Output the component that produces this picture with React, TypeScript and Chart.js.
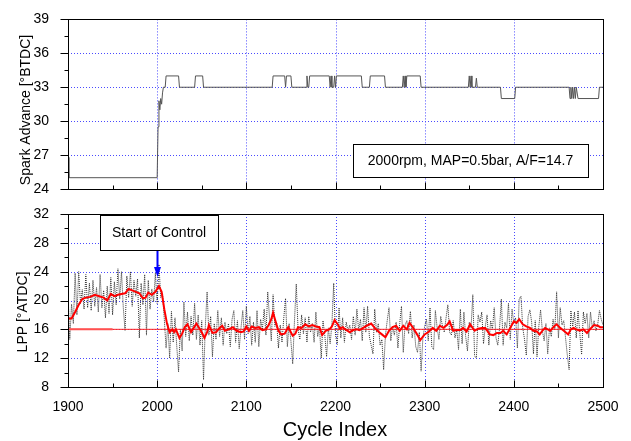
import React, { useEffect, useRef } from "react";
import { Chart, registerables } from "chart.js";

Chart.register(...registerables);

// ---------- data ----------
const xTickValues = [1900, 2000, 2100, 2200, 2300, 2400, 2500];

// Spark advance (top panel) – step trace vertices
const sparkCycles = [
  1900, 1901, 2000, 2001, 2002, 2003, 2004, 2005, 2006, 2007, 2009, 2010, 2024, 2025,
  2042, 2043, 2051, 2052, 2129, 2130, 2143, 2144, 2145, 2150, 2151, 2167, 2168, 2169,
  2170, 2171, 2193, 2194, 2195, 2196, 2198, 2199, 2200, 2201, 2229, 2230, 2238, 2239,
  2255, 2256, 2275, 2276, 2277, 2278, 2279, 2280, 2295, 2296, 2349, 2350, 2351, 2352,
  2353, 2357, 2358, 2359, 2385, 2386, 2401, 2402, 2462, 2463, 2464, 2465, 2466, 2467,
  2468, 2469, 2470, 2472, 2495, 2496, 2500,
];
const sparkValues = [
  26.8, 25, 25, 29.5, 31.8, 31, 32, 31.5, 32.5, 33, 33, 34, 34, 33,
  33, 34, 34, 33, 33, 34, 34, 33, 34, 34, 33, 33, 34, 33,
  33, 34, 34, 33, 34, 33, 33, 34, 33, 34, 34, 33, 33, 34,
  34, 33, 33, 34, 33, 34, 33, 34, 34, 33, 33, 34, 33, 34,
  33, 33, 33.8, 33, 33, 32, 32, 33, 33, 32, 33, 32, 33, 32,
  33, 32, 33, 32, 32, 33, 33,
];

// LPP raw measurements (bottom panel, dotted), every 2nd cycle from 1900
const lppRawStart = 1900;
const lppRawStep = 2;
const lppRaw = [
  21.0, 14.6, 19.5, 16.8, 23.8, 18.0, 24.0, 19.6, 21.5, 18.8, 23.6, 19.0, 22.4, 18.6, 22.8, 19.2, 21.8, 18.4, 23.6, 19.0, 21.4, 17.6, 22.0, 18.2, 23.2,
  18.0, 22.6, 19.4, 24.4, 20.2, 24.0, 19.0, 15.8, 23.4, 20.4, 24.0, 19.2, 22.8, 20.6, 23.0, 14.8, 22.4, 19.4, 23.6, 15.2, 22.8, 18.8, 21.6, 19.8, 23.8,
  19.6, 25.0, 20.4, 21.0, 17.4, 13.4, 16.8, 12.0, 18.5, 14.2, 17.6, 13.6, 10.1, 16.0, 13.0, 19.8, 15.0, 18.4, 14.4, 17.8, 15.2, 19.6, 14.6, 18.0, 13.8,
  17.2, 9.0, 16.4, 21.2, 15.2, 17.8, 12.2, 16.8, 14.6, 18.6, 15.0, 17.6, 13.8, 17.0, 15.4, 16.8, 13.6, 17.4, 18.6, 14.2, 17.2, 13.3, 16.2, 18.6, 14.6,
  19.2, 15.4, 17.8, 13.8, 17.0, 14.2, 18.6, 13.6, 17.4, 16.0, 18.8, 15.2, 21.2, 17.6, 14.4, 20.8, 16.4, 17.0, 13.4, 16.6, 14.2, 17.6, 20.3, 13.6, 16.8,
  14.4, 11.2, 17.2, 22.3, 16.0, 14.6, 18.0, 15.4, 17.6, 14.2, 17.8, 15.6, 16.8, 14.2, 18.4, 15.0, 16.4, 12.0, 17.2, 15.2, 12.2, 16.2, 14.0, 16.8, 22.4,
  15.2, 13.9, 19.0, 14.8, 17.6, 14.2, 17.0, 15.8, 16.6, 14.6, 17.8, 15.2, 18.8, 15.8, 17.4, 14.4, 19.0, 15.6, 19.2, 15.0, 13.8, 12.6, 18.8, 15.6, 16.8,
  13.8, 14.6, 10.4, 15.2, 17.2, 19.0, 14.4, 16.4, 15.2, 17.0, 13.4, 16.8, 19.2, 12.8, 16.6, 17.2, 15.4, 18.5, 14.8, 16.6, 13.6, 12.8, 15.6, 10.2, 14.8,
  16.4, 17.4, 14.4, 19.0, 13.6, 13.2, 18.6, 16.2, 14.6, 17.8, 16.4, 15.6, 17.6, 19.4, 15.6, 15.2, 17.2, 14.8, 16.0, 13.2, 18.8, 14.0, 18.4, 15.0, 13.0,
  17.0, 16.2, 20.8, 12.3, 12.0, 18.0, 17.0, 18.4, 14.0, 16.4, 18.0, 13.8, 17.2, 16.0, 19.0, 14.8, 13.8, 16.2, 20.2, 13.8, 17.0, 16.2, 19.6, 14.6, 18.8,
  16.8, 17.6, 13.4, 20.2, 20.6, 16.2, 14.6, 12.4, 17.8, 18.7, 17.0, 12.6, 17.2, 12.2, 16.4, 18.7, 15.8, 14.4, 16.8, 12.6, 16.2, 15.0, 17.4, 16.0, 21.2,
  14.8, 19.0, 16.6, 17.2, 14.8, 12.4, 10.4, 18.6, 16.4, 18.4, 14.8, 18.6, 15.4, 12.5, 18.4, 16.8, 18.2, 14.8, 18.4, 16.2, 17.2, 15.8, 16.6, 18.6, 17.4, 16.6,
];

// LPP moving average (red)
const lppAvgCycles = [
  1900, 1904, 1908, 1912, 1916, 1920, 1925, 1930, 1935, 1940, 1944, 1948, 1952, 1956, 1960, 1964, 1968, 1972, 1976, 1980,
  1984, 1987, 1990, 1994, 1998, 2002, 2005, 2008, 2011, 2014, 2017, 2019, 2021, 2025, 2028, 2031, 2034, 2038, 2041, 2044,
  2048, 2050, 2053, 2056, 2058, 2062, 2066, 2070, 2073, 2076, 2080, 2085, 2089, 2094, 2097, 2100, 2103, 2106, 2110, 2114,
  2118, 2122, 2125, 2128, 2130, 2133, 2136, 2139, 2143, 2147, 2152, 2155, 2158, 2162, 2166, 2170, 2174, 2178, 2182, 2185,
  2189, 2193, 2196, 2199, 2203, 2205, 2208, 2212, 2216, 2220, 2224, 2227, 2231, 2235, 2240, 2244, 2248, 2252, 2256, 2260,
  2264, 2268, 2272, 2276, 2280, 2283, 2286, 2289, 2292, 2295, 2300, 2305, 2309, 2313, 2317, 2321, 2325, 2328, 2332, 2336,
  2340, 2343, 2347, 2351, 2356, 2360, 2364, 2368, 2373, 2377, 2381, 2385, 2388, 2392, 2396, 2400, 2403, 2406, 2410, 2414,
  2418, 2422, 2426, 2429, 2432, 2435, 2438, 2441, 2445, 2448, 2452, 2455, 2458, 2461, 2464, 2467, 2470, 2474, 2478, 2482,
  2486, 2490, 2494, 2497, 2500,
];
const lppAvgValues = [
  17.5, 17.5, 18.4, 19.4, 20.2, 20.4, 20.5, 20.8, 20.6, 20.4, 20.0, 20.9, 20.6, 20.8, 20.9, 21.0, 21.6, 21.4, 21.2, 21.0,
  20.3, 20.4, 21.1, 20.8, 21.2, 22.0, 21.2, 18.8, 16.8, 15.6, 16.0, 15.6, 16.0, 14.8, 15.4, 16.3, 16.7, 15.6, 16.2, 16.8,
  16.0, 15.6, 14.8, 15.6, 16.6, 15.5, 15.6, 16.2, 16.5, 15.8, 16.0, 16.3, 15.8, 15.6, 15.7, 16.4, 15.8, 16.4, 16.2, 16.3,
  15.9, 16.0, 16.6, 17.4, 18.3, 17.0, 15.8, 15.3, 15.4, 16.3, 15.1, 15.4, 16.3, 16.2, 16.7, 16.4, 16.6, 16.4, 16.3, 15.2,
  15.8, 16.0, 16.4, 17.3, 16.6, 16.1, 16.3, 15.9, 15.6, 15.9, 16.0, 15.9, 16.2, 16.5, 16.8, 16.2, 15.7, 15.3, 14.9, 15.8,
  16.3, 16.5, 15.8, 16.5, 16.0, 16.9, 16.4, 15.8, 15.2, 14.5, 15.3, 15.7, 16.2, 15.8, 16.5, 16.2, 16.6, 17.1, 15.8, 15.9,
  15.9, 16.2, 15.7, 16.7, 15.8, 16.1, 16.2, 16.2, 15.3, 15.2, 15.5, 15.5, 15.8, 15.3, 16.2, 17.1, 16.9, 17.4, 16.7, 16.4,
  16.2, 15.8, 15.7, 15.3, 15.8, 16.2, 16.0, 15.8, 16.4, 16.7, 16.2, 15.9, 15.6, 15.3, 16.0, 16.2, 16.0, 15.8, 16.0, 15.5,
  16.1, 16.6, 16.5, 16.3, 16.3,
];

// Target LPP
const lppTarget = 16;
const targetLegendEnd = 1950;

// ---------- styling helpers ----------
const FONT = "'Liberation Sans', Arial, Helvetica, sans-serif";
const W = 631;
const H = 441;

type PanelOpts = {
  yMajor: number[];
  yMinor: number[];
  yTitle: string;
  yTitleX: number;
  yTitleY: number;
  extra?: (chart: any) => void;
};

function makePanelPlugin(p: PanelOpts) {
  return {
    id: "panelDeco",
    beforeDatasetsDraw(chart: any) {
      const { ctx, chartArea, scales } = chart;
      const { left, right, top, bottom } = chartArea;
      const xs = scales.x;
      const ys = scales.y;
      ctx.save();
      ctx.strokeStyle = "#4a4aff";
      ctx.lineWidth = 1;
      ctx.setLineDash([1, 2]);
      for (const v of xTickValues) {
        if (v === xs.min || v === xs.max) continue;
        const px = Math.round(xs.getPixelForValue(v)) + 0.5;
        ctx.beginPath();
        ctx.moveTo(px, top);
        ctx.lineTo(px, bottom);
        ctx.stroke();
      }
      for (const v of p.yMajor) {
        if (v === ys.min || v === ys.max) continue;
        const py = Math.round(ys.getPixelForValue(v)) + 0.5;
        ctx.beginPath();
        ctx.moveTo(left, py);
        ctx.lineTo(right, py);
        ctx.stroke();
      }
      ctx.restore();
    },
    afterDraw(chart: any) {
      const { ctx, chartArea, scales } = chart;
      const { left, right, top, bottom } = chartArea;
      const xs = scales.x;
      const ys = scales.y;
      ctx.save();
      ctx.setLineDash([]);
      ctx.strokeStyle = "#000";
      ctx.lineWidth = 1;
      const L = Math.round(left) + 0.5;
      const R = Math.round(right) + 0.5;
      const T = Math.round(top) + 0.5;
      const B = Math.round(bottom) + 0.5;
      ctx.strokeRect(L, T, R - L, B - T);
      // x ticks (inward)
      for (let v = xs.min; v <= xs.max; v += 50) {
        const px = Math.round(xs.getPixelForValue(v)) + 0.5;
        const len = v % 100 === 0 ? 7 : 4;
        ctx.beginPath();
        ctx.moveTo(px, B);
        ctx.lineTo(px, B - len);
        ctx.stroke();
      }
      // y ticks (outward)
      for (const v of p.yMajor) {
        const py = Math.round(ys.getPixelForValue(v)) + 0.5;
        ctx.beginPath();
        ctx.moveTo(L - 8, py);
        ctx.lineTo(L, py);
        ctx.stroke();
      }
      for (const v of p.yMinor) {
        const py = Math.round(ys.getPixelForValue(v)) + 0.5;
        ctx.beginPath();
        ctx.moveTo(L - 4, py);
        ctx.lineTo(L, py);
        ctx.stroke();
      }
      // y title
      ctx.fillStyle = "#000";
      ctx.font = `14px ${FONT}`;
      ctx.textAlign = "center";
      ctx.textBaseline = "middle";
      ctx.save();
      ctx.translate(p.yTitleX, p.yTitleY);
      ctx.rotate(-Math.PI / 2);
      ctx.fillText(p.yTitle, 0, 0);
      ctx.restore();
      if (p.extra) p.extra(chart);
      ctx.restore();
    },
  };
}

function drawBox(ctx: CanvasRenderingContext2D, x: number, y: number, w: number, h: number, text: string) {
  ctx.save();
  ctx.fillStyle = "#fff";
  ctx.fillRect(x, y, w, h);
  ctx.strokeStyle = "#000";
  ctx.lineWidth = 1;
  ctx.setLineDash([]);
  ctx.strokeRect(x + 0.5, y + 0.5, w, h);
  ctx.fillStyle = "#000";
  ctx.font = `14px ${FONT}`;
  ctx.textAlign = "center";
  ctx.textBaseline = "middle";
  ctx.fillText(text, x + w / 2, y + h / 2 + 1);
  ctx.restore();
}

export default function App() {
  const topRef = useRef<HTMLCanvasElement | null>(null);
  const botRef = useRef<HTMLCanvasElement | null>(null);

  useEffect(() => {
    const tickFont = { family: FONT, size: 14 };
    const plainLabel = (v: any) => String(v);

    const topChart = new Chart(topRef.current as HTMLCanvasElement, {
      type: "line",
      data: {
        datasets: [
          {
            data: sparkCycles.map((c, i) => ({ x: c, y: sparkValues[i] })),
            borderColor: "#555555",
            borderWidth: 1,
            pointRadius: 0,
            fill: false,
            tension: 0,
          },
        ],
      },
      options: {
        responsive: false,
        animation: false,
        events: [],
        layout: { padding: { left: 0, right: 28, top: 15, bottom: 252 } },
        plugins: { legend: { display: false }, tooltip: { enabled: false } },
        scales: {
          x: {
            type: "linear",
            min: 1900,
            max: 2500,
            ticks: { display: false, stepSize: 100 },
            grid: { display: false },
            border: { display: false },
            afterFit: (s: any) => {
              s.height = 0;
            },
          },
          y: {
            type: "linear",
            min: 24,
            max: 39,
            ticks: { stepSize: 3, font: tickFont, color: "#000", padding: 11, callback: plainLabel },
            grid: { display: false },
            border: { display: false },
            afterFit: (s: any) => {
              s.width = 68;
            },
          },
        },
      },
      plugins: [
        makePanelPlugin({
          yMajor: [24, 27, 30, 33, 36, 39],
          yMinor: [25.5, 28.5, 31.5, 34.5, 37.5],
          yTitle: "Spark Advance [°BTDC]",
          yTitleX: 26,
          yTitleY: 110,
          extra: (chart: any) => {
            const { ctx, chartArea } = chart;
            drawBox(ctx, Math.round(chartArea.left) + 285, Math.round(chartArea.top) + 125, 235, 33, "2000rpm, MAP=0.5bar, A/F=14.7");
          },
        }),
      ],
    } as any);

    const botChart = new Chart(botRef.current as HTMLCanvasElement, {
      type: "line",
      data: {
        datasets: [
          {
            data: lppAvgCycles.map((c, i) => ({ x: c, y: lppAvgValues[i] })),
            borderColor: "#ff0000",
            borderWidth: 2,
            pointRadius: 0,
            fill: false,
            tension: 0,
          },
          {
            data: [
              { x: 1900, y: lppTarget },
              { x: targetLegendEnd, y: lppTarget },
            ],
            borderColor: "#ff5050",
            borderWidth: 2,
            pointRadius: 0,
            fill: false,
          },
          {
            data: [
              { x: 1900, y: lppTarget },
              { x: 2500, y: lppTarget },
            ],
            borderColor: "#ff2020",
            borderWidth: 1,
            pointRadius: 0,
            fill: false,
          },
          {
            data: lppRaw.map((v, i) => ({ x: lppRawStart + lppRawStep * i, y: v })),
            borderColor: "#303030",
            borderWidth: 1,
            borderDash: [1, 1],
            pointRadius: 0,
            fill: false,
            tension: 0,
          },
        ],
      },
      options: {
        responsive: false,
        animation: false,
        events: [],
        layout: { padding: { left: 0, right: 28, top: 214, bottom: 0 } },
        plugins: { legend: { display: false }, tooltip: { enabled: false } },
        scales: {
          x: {
            type: "linear",
            min: 1900,
            max: 2500,
            ticks: { stepSize: 100, font: tickFont, color: "#000", padding: 4, maxRotation: 0, callback: plainLabel },
            grid: { display: false },
            border: { display: false },
            afterFit: (s: any) => {
              s.height = 54;
            },
          },
          y: {
            type: "linear",
            min: 8,
            max: 32,
            ticks: { stepSize: 4, font: tickFont, color: "#000", padding: 11, callback: plainLabel },
            grid: { display: false },
            border: { display: false },
            afterFit: (s: any) => {
              s.width = 68;
            },
          },
        },
      },
      plugins: [
        makePanelPlugin({
          yMajor: [8, 12, 16, 20, 24, 28, 32],
          yMinor: [10, 14, 18, 22, 26, 30],
          yTitle: "LPP [°ATDC]",
          yTitleX: 23,
          yTitleY: 312,
          extra: (chart: any) => {
            const { ctx, chartArea, scales } = chart;
            const ax = Math.round(scales.x.getPixelForValue(2000)) + 0.5;
            // arrow
            ctx.save();
            ctx.strokeStyle = "#0000ff";
            ctx.fillStyle = "#0000ff";
            ctx.lineWidth = 2;
            ctx.setLineDash([]);
            ctx.beginPath();
            ctx.moveTo(ax, chartArea.top + 36);
            ctx.lineTo(ax, chartArea.top + 56);
            ctx.stroke();
            ctx.beginPath();
            ctx.moveTo(ax - 3.5, chartArea.top + 53);
            ctx.lineTo(ax + 3.5, chartArea.top + 53);
            ctx.lineTo(ax, chartArea.top + 63);
            ctx.closePath();
            ctx.fill();
            ctx.restore();
            drawBox(ctx, 100, Math.round(chartArea.top) + 1, 118, 35, "Start of Control");
            // x axis title
            ctx.save();
            ctx.fillStyle = "#000";
            ctx.font = `20px ${FONT}`;
            ctx.textAlign = "center";
            ctx.textBaseline = "middle";
            ctx.fillText("Cycle Index", 335, 430);
            ctx.restore();
          },
        }),
      ],
    } as any);

    return () => {
      topChart.destroy();
      botChart.destroy();
    };
  }, []);

  const canvasStyle: React.CSSProperties = {
    position: "absolute",
    left: 0,
    top: 0,
    width: W,
    height: H,
  };

  return (
    <div
      style={{
        position: "fixed",
        left: 0,
        top: 0,
        width: W,
        height: H,
        background: "#fff",
        overflow: "hidden",
      }}
    >
      <canvas ref={topRef} width={W} height={H} style={canvasStyle} />
      <canvas ref={botRef} width={W} height={H} style={canvasStyle} />
    </div>
  );
}
